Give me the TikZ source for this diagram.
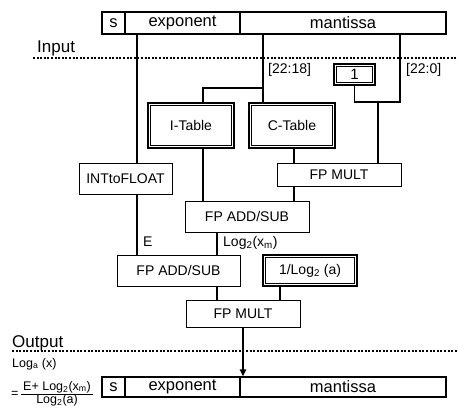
\documentclass[tikz,border=0pt]{standalone}
\usepackage{fontspec}
\setmainfont{Liberation Sans}
\usetikzlibrary{arrows.meta}
\setlength{\arrayrulewidth}{0.8pt}
\newcommand{\innerframe}[1]{\draw[line width=0.9pt] ([shift={(3pt,-3pt)}]#1.north west) rectangle ([shift={(-3pt,3pt)}]#1.south east);}
\begin{document}
\begin{tikzpicture}[x=1pt,y=-1pt,
  box/.style={draw, line width=1pt, inner sep=0pt, font=\fontsize{14}{16}\selectfont},
  dbox/.style={draw, line width=1.1pt, inner sep=0pt, font=\fontsize{14}{16}\selectfont},
  reg/.style={draw, line width=1.1pt, inner sep=0pt, font=\fontsize{16.5}{18}\selectfont},
  wire/.style={line width=1.8pt},
  lbl/.style={inner sep=0pt, font=\fontsize{17}{19}\selectfont},
  small/.style={inner sep=0pt, font=\fontsize{14}{16}\selectfont},
  frm/.style={inner sep=0pt, font=\fontsize{12.5}{13}\selectfont},
  dotline/.style={line width=1.2pt, dash pattern=on 2pt off 1.6pt}]
\useasboundingbox (0,0) rectangle (458,408);

% input register
\node[reg, minimum width=23pt, minimum height=22pt] (s1) at (113.5,23) {s};
\node[reg, minimum width=115pt, minimum height=22pt] (e1) at (182.5,23) {exponent};
\node[reg, minimum width=206pt, minimum height=22pt] (m1) at (343,23) {mantissa};

% output register
\node[reg, minimum width=23pt, minimum height=20pt] (s2) at (113.5,387) {s};
\node[reg, minimum width=115pt, minimum height=20pt] (e2) at (182.5,387) {exponent};
\node[reg, minimum width=206pt, minimum height=20pt] (m2) at (343,387) {mantissa};

% separators
\coordinate (inL) at (33,58);
\coordinate (inR) at (458,58);
\coordinate (outL) at (12,351);
\coordinate (outR) at (458,351);
\draw[dotline] (inL) -- (inR);
\draw[dotline] (outL) -- (outR);
\node[lbl, anchor=base west] (inlab) at (37,52) {Input};
\node[lbl, anchor=base west] (outlab) at (12,347) {Output};

% blocks
\node[dbox, minimum width=86pt, minimum height=45pt] (itab) at (191,125.5) {I-Table};
\node[dbox, minimum width=86pt, minimum height=45pt] (ctab) at (292,125.5) {C-Table};
\node[dbox, minimum width=41pt, minimum height=21pt, font=\fontsize{15}{17}\selectfont] (one) at (354.5,74.5) {1};
\node[box, minimum width=93pt, minimum height=31pt] (intf) at (125.5,178.5) {INTtoFLOAT};
\node[box, minimum width=124pt, minimum height=23pt] (mult1) at (339,174.5) {FP MULT};
\node[box, minimum width=124pt, minimum height=31pt] (add1) at (247,216.5) {FP ADD/SUB};
\node[box, minimum width=123pt, minimum height=31pt] (add2) at (178.5,270.5) {FP ADD/SUB};
\node[dbox, minimum width=94pt, minimum height=31pt] (inv) at (310,270.5) {1/Log\textsubscript{2} (a)};
\node[box, minimum width=114pt, minimum height=27pt] (mult2) at (243,313.5) {FP MULT};
\innerframe{itab}
\innerframe{ctab}
\innerframe{one}
\innerframe{inv}

% x positions of wires
\coordinate (xE) at (137,0);
\coordinate (xM) at (263,0);
\coordinate (xI) at (203,0);
\coordinate (xR) at (400,0);
\coordinate (xMu) at (378,0);
\coordinate (xC) at (294,0);
\coordinate (xL) at (217,0);
\coordinate (xV) at (280,0);
\coordinate (xO) at (243,0);
\coordinate (jA) at (263,88);
\coordinate (jB) at (400,102);

% wires
\draw[wire] (e1.south -| xE) -- (intf.north -| xE);
\draw[wire] (intf.south -| xE) -- (add2.north -| xE);
\draw[wire] (m1.south -| xM) -- (ctab.north -| xM);
\draw[wire] (jA) -| (itab.north -| xI);
\draw[wire] (m1.south -| xR) -- (jB) -| (one.south);
\draw[wire] (jB -| xMu) -- (mult1.north -| xMu);
\draw[wire] (ctab.south -| xC) -- (mult1.north -| xC);
\draw[wire] (mult1.south -| xC) -- (add1.north -| xC);
\draw[wire] (itab.south -| xI) -- (add1.north -| xI);
\draw[wire] (add1.south -| xL) -- (add2.north -| xL);
\draw[wire] (add2.south -| xL) -- (mult2.north -| xL);
\draw[wire] (inv.south -| xV) -- (mult2.north -| xV);
\draw[wire, -{Triangle[length=7pt,width=6pt]}] (mult2.south -| xO) -- (m2.north -| xO);

% labels
\node[small, anchor=base west] (b1) at (268,73) {[22:18]};
\node[small, anchor=base west] (b2) at (406,73) {[22:0]};
\node[small, anchor=base west] (elab) at (143,246) {E};
\node[small, anchor=base west] (llab) at (223,246) {Log\textsubscript{2}(x\textsubscript{m})};

% formula
\node[frm, anchor=base west] (loga) at (12,367) {Log\textsubscript{a} (x)};
\node[frm, anchor=base west] (eq) at (11,397) {=};
\node[frm, anchor=west] (frac) at (21,394.4) {\begin{tabular}{@{\hspace{2pt}}c@{\hspace{2pt}}}E+ Log\textsubscript{2}(x\textsubscript{m})\\\hline Log\textsubscript{2}(a)\end{tabular}};
\end{tikzpicture}
\end{document}
